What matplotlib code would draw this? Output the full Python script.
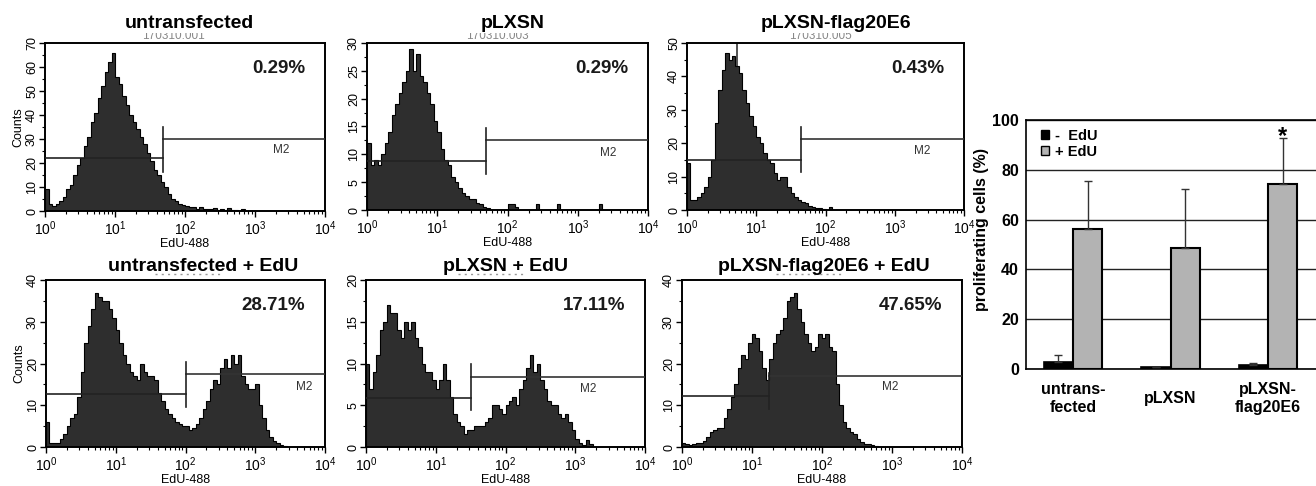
import numpy as np
import matplotlib.pyplot as plt
from matplotlib.ticker import MultipleLocator, AutoMinorLocator, LogLocator, NullFormatter
from matplotlib.transforms import Bbox
from matplotlib.patches import Patch

plt.rcParams['font.family'] = ['Liberation Sans', 'DejaVu Sans']

W, H = 1316, 486
STEP = 0.05  # decades per histogram bin, starting at 10^0

# ---- flow histograms (counts per 0.05-decade bin) ----
titles = ['untransfected', 'pLXSN', 'pLXSN-flag20E6',
          'untransfected + EdU', 'pLXSN + EdU', 'pLXSN-flag20E6 + EdU']
file_ids = ['170310.001', '170310.003', '170310.005']
percents = ['0.29%', '0.29%', '0.43%', '28.71%', '17.11%', '47.65%']
y_max = [70, 30, 50, 40, 20, 40]
y_step = [10, 5, 10, 10, 5, 10]

counts_untr = [9, 3, 2, 3, 4, 6, 9, 11, 15, 19, 22, 27, 31, 37, 41, 47, 52, 58, 62, 66,
               56, 53, 48, 44, 40, 37, 34, 31, 28, 24, 21, 17, 15, 12, 10, 7, 5, 4, 3, 2.5,
               2, 1.5, 1.5, 1, 1.5, 1, 0.7, 1, 1.2, 0.5, 1, 0.5, 1.3, 0.3, 0.5, 0, 0.8, 0, 0, 0]
counts_lxsn = [12, 8, 9, 8, 10, 12, 14, 17, 19, 21, 23, 25, 29, 25, 28, 24, 23, 21, 19, 16,
               14, 11, 9, 8, 6, 5, 4, 3, 2.5, 2, 2, 1.2, 1, 0.5, 0.3, 0, 0, 0, 0, 0,
               1, 1, 0.5, 0, 0, 0, 0, 0, 1, 0, 0, 0, 0, 0, 1, 0, 0, 0, 0, 0,
               0, 0, 0, 0, 0, 0, 1, 0, 0, 0]
counts_e6 = [14, 3, 3, 4, 5, 7, 10, 15, 26, 36, 42, 47, 45, 46, 43, 41, 36, 32, 28, 25,
             22, 20, 17, 15, 14, 11, 9, 10, 10, 7, 5, 4, 3, 2.5, 2, 1.2, 0.8, 0.7, 0.5, 0.3,
             0, 1, 0, 0]
counts_untr_edu = [6, 1, 1, 1, 2, 3, 5, 7, 8, 12, 18, 25, 29, 33, 37, 36, 35, 35, 33, 31,
                   28, 25, 22, 20, 18, 17, 16, 20, 18, 17, 17, 16, 13, 11, 9, 8, 7, 6, 5.5, 5,
                   5, 4, 4.5, 5.5, 7, 9, 11, 14, 16, 15, 19, 21, 19, 22, 20, 22, 17, 15, 14, 14,
                   15, 10, 7, 4, 2.5, 1.5, 1, 0.5, 0.2, 0]
counts_lxsn_edu = [10, 7, 9, 11, 14, 15, 17, 16, 16, 14, 13, 15, 14, 15, 13, 12, 10, 9, 9, 8,
                   7, 8, 10, 8, 6, 4, 3, 2.5, 1.5, 2, 2, 2.5, 2.5, 2.5, 3, 3.5, 5, 5, 4.5, 4,
                   5, 5.5, 6, 5, 7, 8, 9.5, 11, 9, 10, 8, 7, 5.5, 5, 5, 4, 3.5, 4, 3, 2,
                   1, 0.5, 0.2, 0.8, 0.3, 0]
counts_e6_edu = [1, 0.8, 0.5, 0.7, 1, 1, 1.5, 2.5, 3.5, 4, 4.5, 4.5, 7, 9, 12, 15, 19, 22, 21, 25,
                 27, 26, 23, 19, 16, 21, 25, 27, 28, 31, 35, 36, 37, 33, 30, 27, 25, 23, 24, 27,
                 26, 27, 24, 23, 15, 10, 6, 4.5, 3.5, 3, 2, 1.2, 0.8, 0.6, 0.5, 0.2, 0]
all_counts = [counts_untr, counts_lxsn, counts_e6, counts_untr_edu, counts_lxsn_edu, counts_e6_edu]

# M1 / M2 gate markers
gate_x = [49, 49, 44, 103, 32, 17.7]
gate_lo = [22, 8.8, 15, 12.6, 5.9, 12.2]
gate_hi = [30, 12.5, 21.2, 17.4, 8.4, 17.1]
vbar_lo = [16.4, 6.5, 11.3, 9.6, 4.4, 9.2]
vbar_hi = [35.2, 14.8, 24.8, 20.4, 9.9, 17.8]
m2_x = [2400, 2750, 2450, 5100, 1550, 955]
m2_y = [25.5, 10.3, 17.8, 14.4, 7.0, 14.4]

# ---- bar chart ----
groups = ['untrans-\nfected', 'pLXSN', 'pLXSN-\nflag20E6']
minus_edu = [3.0, 1.0, 1.6]
minus_err = [2.5, 0.0, 0.8]
plus_edu = [56.2, 48.6, 74.3]
plus_err = [19.3, 23.7, 18.5]


def box(l, t, r, b):
    return [l / W, 1 - b / H, (r - l) / W, (b - t) / H]


hist_boxes = [box(45, 43, 325, 211), box(367, 43, 648, 210), box(687, 43, 964, 210),
              box(46, 280, 325, 447), box(366, 280, 645, 447), box(682, 280, 962, 447)]
title_x = [189, 513, 836, 203, 506, 824]
title_base = [28, 28, 28, 271, 271, 271]

fig = plt.figure(figsize=(W / 100, H / 100), dpi=100)

for i in range(6):
    ax = fig.add_axes(hist_boxes[i])
    c = np.array(all_counts[i], dtype=float)
    edges = 10 ** (np.arange(len(c) + 1) * STEP)
    if i == 2:
        ax.plot([5.25, 5.25], [0, y_max[i]], color='#333333', lw=1.2, zorder=1)
    ax.stairs(c, edges, fill=True, color='#2e2e2e', zorder=2)
    ax.stairs(c, edges, color='black', lw=0.8, zorder=2)
    ax.plot([1, gate_x[i]], [gate_lo[i], gate_lo[i]], color='#222222', lw=1.2, zorder=3)
    ax.plot([gate_x[i], 1e4], [gate_hi[i], gate_hi[i]], color='#333333', lw=1.2, zorder=3)
    ax.plot([gate_x[i], gate_x[i]], [vbar_lo[i], vbar_hi[i]], color='#222222', lw=1.2, zorder=3)
    ax.text(m2_x[i], m2_y[i], 'M2', fontsize=8.5, color='#333333', ha='center', va='center')
    ax.text(0.93, 0.85, percents[i], transform=ax.transAxes, ha='right', va='center',
            fontsize=13.5, fontweight='bold', color='#1a1a1a')

    ax.set_xscale('log')
    ax.set_xlim(1, 1e4)
    ax.set_ylim(0, y_max[i])
    ax.xaxis.set_major_locator(LogLocator(base=10, numticks=6))
    ax.xaxis.set_minor_locator(LogLocator(base=10, subs=np.arange(2, 10), numticks=20))
    ax.xaxis.set_minor_formatter(NullFormatter())
    ax.yaxis.set_major_locator(MultipleLocator(y_step[i]))
    ax.yaxis.set_minor_locator(AutoMinorLocator(2))
    ax.tick_params(which='major', direction='out', length=4, width=1, labelsize=10, pad=2)
    ax.tick_params(which='minor', direction='out', length=2.5, width=0.8)
    ax.tick_params(axis='y', labelsize=9, labelrotation=90, pad=1)
    for lab in ax.get_yticklabels():
        lab.set_va('center')
    for s in ax.spines.values():
        s.set_linewidth(1.4)
    ax.set_xlabel('EdU-488', fontsize=9, labelpad=0)
    if i in (0, 3):
        ax.set_ylabel('Counts', fontsize=9, labelpad=1)

    fig.text(title_x[i] / W, 1 - title_base[i] / H, titles[i], ha='center', va='baseline',
             fontsize=14, fontweight='bold')

    if i < 3:
        # faint, half-hidden file id under each top title
        t = fig.text((title_x[i] - 16) / W, 1 - 36 / H, file_ids[i], ha='center',
                     va='center', fontsize=8.5, color='#888888')
        t.set_clip_box(Bbox.from_extents(0, H - 42, W, H - 33))
        t.set_clip_on(True)
    else:
        # only specks of the file id survive under the bottom titles
        fig.add_artist(plt.Line2D([(title_x[i] - 48) / W, (title_x[i] + 20) / W],
                                  [1 - 274 / H, 1 - 274 / H], color='#999999', lw=1,
                                  ls=(0, (1.5, 3))))

# ---- proliferation bar chart ----
bx = fig.add_axes(box(1026, 120, 1316, 369))
x = np.arange(len(groups))
bw = 0.3
bx.bar(x - bw / 2, minus_edu, bw, color='black', edgecolor='black', lw=1.2, zorder=3)
bx.bar(x + bw / 2, plus_edu, bw, color='#b3b3b3', edgecolor='black', lw=1.5, zorder=3)
bx.errorbar(x - bw / 2, minus_edu, yerr=[np.zeros(3), minus_err], fmt='none',
            ecolor='#333333', elinewidth=1, capsize=3, zorder=4)
bx.errorbar(x + bw / 2, plus_edu, yerr=[np.zeros(3), plus_err], fmt='none',
            ecolor='#333333', elinewidth=1, capsize=3, zorder=4)
bx.text(2 + bw / 2, 93.5, '*', ha='center', va='center', fontsize=17, fontweight='bold')

bx.set_xlim(-0.482, 2.492)
bx.set_ylim(0, 100)
bx.set_yticks(np.arange(0, 101, 20))
bx.yaxis.grid(True, color='#222222', lw=1.0)
bx.set_axisbelow(True)
bx.spines['right'].set_visible(False)
for s in ('left', 'top', 'bottom'):
    bx.spines[s].set_linewidth(1.2)
bx.set_xticks(x)
bx.set_xticklabels(groups, fontsize=11.5, fontweight='bold', va='center', linespacing=1.25)
bx.tick_params(axis='x', length=0, pad=21)
bx.tick_params(axis='y', length=0, pad=5, labelsize=11.5)
for lab in bx.get_yticklabels():
    lab.set_fontweight('bold')
bx.set_ylabel('proliferating cells (%)', fontsize=11.5, fontweight='bold')
bx.yaxis.set_label_coords(-0.128, 0.56)

handles = [Patch(facecolor='black', edgecolor='black'),
           Patch(facecolor='#b3b3b3', edgecolor='black')]
bx.legend(handles, ['-  EdU', '+ EdU'], loc='upper left', bbox_to_anchor=(0.02, 1.0),
          frameon=False, handlelength=0.6, handleheight=0.6, handletextpad=0.4,
          labelspacing=0.15, borderaxespad=0.2, prop={'weight': 'bold', 'size': 10.5})

fig.savefig('out.png', dpi=100)
